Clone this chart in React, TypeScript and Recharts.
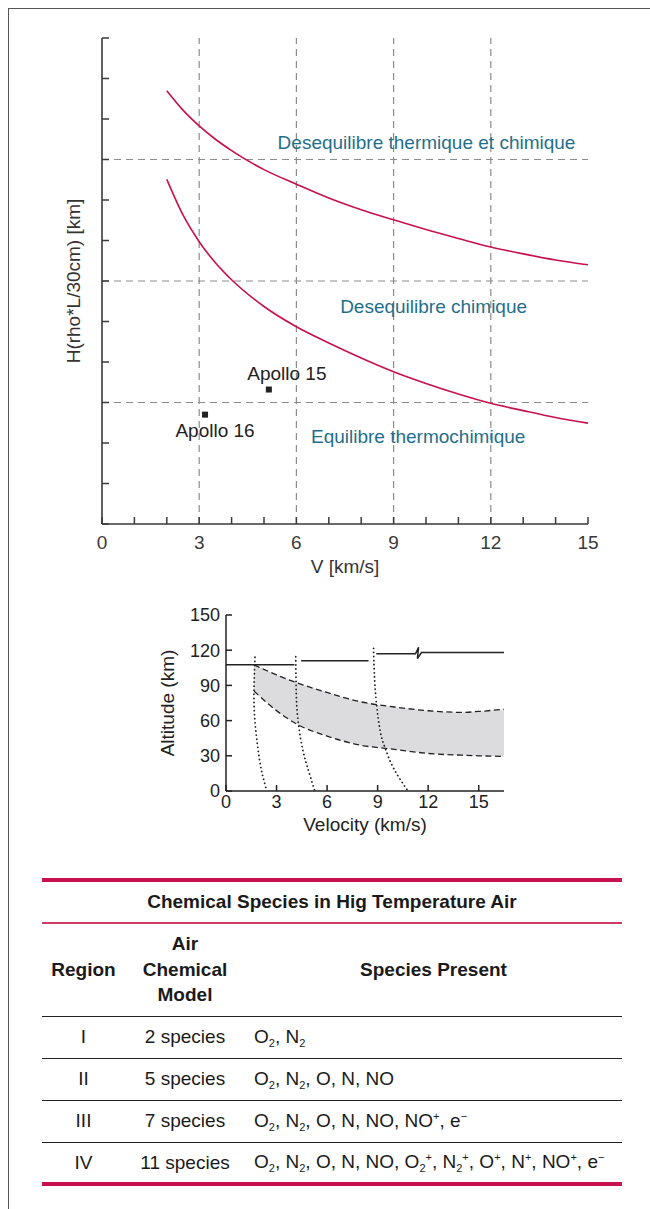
import React from "react"
import {
  ComposedChart,
  Line,
  Area,
  Scatter,
  XAxis,
  YAxis,
  ReferenceLine,
  ReferenceDot,
} from "recharts"

const FONT = '"Liberation Sans", Arial, Helvetica, sans-serif'
const CRIMSON = "#c8104e"
const CRIMSON_THIN = "#d03a66"
const TEAL = "#1f6f8c"
const GRID = "#8c8c8c"
const INK = "#222"
const AXIS1 = "#3a3a3a"

// ---- upper chart: H(rho*L/30cm) vs V
const curveV = [2, 2.5, 3, 3.5, 4, 5, 6, 7, 8, 9, 10, 11, 12, 13, 14, 15]
const upperH = [10.7, 10.22, 9.83, 9.5, 9.22, 8.75, 8.39, 8.05, 7.76, 7.51, 7.27, 7.05, 6.84, 6.67, 6.52, 6.4]
const lowerH = [8.51, 7.63, 6.97, 6.45, 6.03, 5.37, 4.87, 4.47, 4.1, 3.76, 3.47, 3.21, 2.98, 2.8, 2.63, 2.49]

const apolloNames = ["Apollo 15", "Apollo 16"]
const apolloV = [5.15, 3.18]
const apolloH = [3.32, 2.7]

const regionNames = ["Desequilibre thermique et chimique", "Desequilibre chimique", "Equilibre thermochimique"]
const regionV = [5.42, 7.35, 6.45]
const regionH = [9.42, 5.38, 2.16]

const vTicks = [0, 1, 2, 3, 4, 5, 6, 7, 8, 9, 10, 11, 12, 13, 14, 15]
const vLabels = [0, 3, 6, 9, 12, 15]
const hTicks = [0, 1, 2, 3, 4, 5, 6, 7, 8, 9, 10, 11, 12]
const vGrid = [3, 6, 9, 12]
const hGrid = [3, 6, 9]

// ---- lower chart: altitude vs velocity
const bandV = [1.66, 3, 4.2, 6, 8, 10, 12, 14, 15, 16.5]
const bandHi = [107.5, 99, 92.3, 84, 76, 71.6, 68.4, 67, 67.8, 69.7]
const bandLo = [85.2, 68.5, 57, 46.8, 39, 35.5, 32, 30.5, 30, 29.5]

const dot1V = [1.72, 1.66, 1.72, 1.92, 2.12, 2.42]
const dot1A = [114, 85, 59, 33.5, 16.5, 0]
const dot2V = [4.14, 4.16, 4.24, 4.5, 4.8, 5.27]
const dot2A = [114.5, 90, 65, 39, 22, 0]
const dot3V = [8.76, 8.8, 8.92, 9.16, 9.45, 9.95, 10.8]
const dot3A = [121.6, 101.7, 76, 50.6, 36.4, 19.3, 0]

const seg1V = [0, 4.06]
const seg1A = [107.7, 107.7]
const seg2V = [4.46, 8.46]
const seg2A = [111, 111]
const seg3V = [8.92, 11.25, 11.43, 11.36, 11.6, 16.5]
const seg3A = [117, 117, 122.5, 112.8, 118, 118]

const velTicks = [0, 3, 6, 9, 12, 15]
const altTicks = [0, 30, 60, 90, 120, 150]

// ---- table
const tableTitle = "Chemical Species in Hig Temperature Air"
const headRegion = "Region"
const headModel = ["Air", "Chemical", "Model"]
const headSpecies = "Species Present"
const regions = ["I", "II", "III", "IV"]
const models = ["2 species", "5 species", "7 species", "11 species"]
const speciesLists = [
  ["O_2", "N_2"],
  ["O_2", "N_2", "O", "N", "NO"],
  ["O_2", "N_2", "O", "N", "NO", "NO^+", "e^\u2212"],
  ["O_2", "N_2", "O", "N", "NO", "O_2^+", "N_2^+", "O^+", "N^+", "NO^+", "e^\u2212"],
]

const zip = (xs: number[], ys: number[], key: string) => xs.map((v, i) => ({ v, [key]: ys[i] }))

const upperCurve = zip(curveV, upperH, "h")
const lowerCurve = zip(curveV, lowerH, "h")
const apollo = apolloNames.map((name, i) => ({ name, v: apolloV[i], h: apolloH[i] }))
const band = bandV.map((v, i) => ({ v, lo: bandLo[i], hi: bandHi[i] }))
const bandUpper = zip(bandV, bandHi, "alt")
const bandLower = zip(bandV, bandLo, "alt")
const dotted = [zip(dot1V, dot1A, "alt"), zip(dot2V, dot2A, "alt"), zip(dot3V, dot3A, "alt")]
const solid = [zip(seg1V, seg1A, "alt"), zip(seg2V, seg2A, "alt"), zip(seg3V, seg3A, "alt")]

type Side = "bottom" | "top" | "left" | "right"

function tickRenderer(side: Side, len: number, color: string, labels: number[] = [], gap = 0, size = 18) {
  return (p: any) => {
    const { x, y, payload } = p
    const v = payload.value
    const show = labels.includes(v)
    let x2 = x
    let y2 = y
    if (side === "bottom") y2 = y - len
    if (side === "top") y2 = y + len
    if (side === "left") x2 = x + len
    if (side === "right") x2 = x - len
    return (
      <g>
        <line x1={x} y1={y} x2={x2} y2={y2} stroke={color} strokeWidth={1.5} />
        {show && side === "bottom" && (
          <text x={x} y={y + gap} textAnchor="middle" fontSize={size} fill={color}>
            {v}
          </text>
        )}
        {show && side === "left" && (
          <text x={x - gap} y={y + size * 0.355} textAnchor="end" fontSize={size} fill={color}>
            {v}
          </text>
        )}
      </g>
    )
  }
}

const apolloShift = [
  { dx: 18, dy: -10 },
  { dx: 10, dy: 22 },
]

function ApolloMark(props: any) {
  const { cx, cy, payload, index } = props
  const s = apolloShift[index] || apolloShift[0]
  return (
    <g>
      <rect x={cx - 3} y={cy - 3} width={6} height={6} fill={INK} />
      <text x={cx + s.dx} y={cy + s.dy} textAnchor="middle" fontSize={19} fill={INK}>
        {payload.name}
      </text>
    </g>
  )
}

function TopChart() {
  return (
    <div style={{ position: "absolute", left: 0, top: 0 }}>
      <ComposedChart width={650} height={610} margin={{ top: 38, right: 62, bottom: 0, left: 44 }}>
        <XAxis
          type="number"
          dataKey="v"
          domain={[0, 15]}
          ticks={vTicks}
          interval={0}
          height={86}
          tickSize={0}
          tickMargin={0}
          tickLine={false}
          axisLine={{ stroke: AXIS1, strokeWidth: 1.6 }}
          tick={tickRenderer("bottom", 7, AXIS1, vLabels, 25, 19)}
          label={{ value: "V [km/s]", position: "insideBottom", offset: 37, fill: "#333", fontSize: 19 }}
        />
        <XAxis xAxisId="top" orientation="top" type="number" domain={[0, 15]} height={0} tick={false} tickLine={false} axisLine={{ stroke: "#555", strokeWidth: 1.5 }} />
        <YAxis
          type="number"
          dataKey="h"
          domain={[0, 12]}
          ticks={hTicks}
          interval={0}
          width={58}
          tickSize={0}
          tickMargin={0}
          tickLine={false}
          axisLine={{ stroke: AXIS1, strokeWidth: 1.6 }}
          tick={tickRenderer("left", 7, AXIS1)}
          label={{ value: "H(rho*L/30cm) [km]", angle: -90, position: "center", fill: "#333", fontSize: 19 }}
        />
        <YAxis yAxisId="right" orientation="right" type="number" domain={[0, 12]} width={0} tick={false} tickLine={false} axisLine={{ stroke: "#555", strokeWidth: 1.5 }} />

        {vGrid.map((g) => (
          <ReferenceLine key={"v" + g} x={g} stroke={GRID} strokeWidth={1.2} strokeDasharray="7 5" />
        ))}
        {hGrid.map((g) => (
          <ReferenceLine key={"h" + g} y={g} stroke={GRID} strokeWidth={1.2} strokeDasharray="7 5" />
        ))}

        <Line data={upperCurve} dataKey="h" type="monotone" stroke={CRIMSON} strokeWidth={1.6} dot={false} isAnimationActive={false} />
        <Line data={lowerCurve} dataKey="h" type="monotone" stroke={CRIMSON} strokeWidth={1.6} dot={false} isAnimationActive={false} />
        <Scatter data={apollo} dataKey="h" shape={ApolloMark} isAnimationActive={false} />

        {regionNames.map((name, i) => (
          <ReferenceDot
            key={name}
            x={regionV[i]}
            y={regionH[i]}
            r={0}
            fill="none"
            stroke="none"
            label={{ value: name, position: "right", offset: 0, fill: TEAL, fontSize: 19 }}
          />
        ))}
      </ComposedChart>
    </div>
  )
}

function BottomChart() {
  return (
    <div style={{ position: "absolute", left: 100, top: 595 }}>
      <ComposedChart width={450} height={250} margin={{ top: 20, right: 46, bottom: 0, left: 8 }}>
        <XAxis
          type="number"
          dataKey="v"
          domain={[0, 16.5]}
          ticks={velTicks}
          interval={0}
          height={54}
          tickSize={0}
          tickMargin={0}
          tickLine={false}
          axisLine={{ stroke: INK, strokeWidth: 1.5 }}
          tick={tickRenderer("bottom", 6, INK, velTicks, 17, 18)}
          label={{ value: "Velocity (km/s)", position: "insideBottom", offset: 14, fill: INK, fontSize: 19 }}
        />
        <XAxis
          xAxisId="top"
          orientation="top"
          type="number"
          domain={[0, 16.5]}
          ticks={velTicks}
          interval={0}
          height={0}
          tickSize={0}
          tickMargin={0}
          tickLine={false}
          axisLine={{ stroke: INK, strokeWidth: 1.5 }}
          tick={tickRenderer("top", 6, INK)}
        />
        <YAxis
          type="number"
          domain={[0, 150]}
          ticks={altTicks}
          interval={0}
          width={118}
          tickSize={0}
          tickMargin={0}
          tickLine={false}
          axisLine={{ stroke: INK, strokeWidth: 1.5 }}
          tick={tickRenderer("left", 6, INK, altTicks, 6, 18)}
          label={{ value: "Altitude (km)", angle: -90, position: "center", fill: INK, fontSize: 19 }}
        />
        <YAxis
          yAxisId="right"
          orientation="right"
          type="number"
          domain={[0, 150]}
          ticks={altTicks}
          interval={0}
          width={0}
          tickSize={0}
          tickMargin={0}
          tickLine={false}
          axisLine={{ stroke: INK, strokeWidth: 1.5 }}
          tick={tickRenderer("right", 6, INK)}
        />

        <Area
          data={band}
          dataKey={(d: any) => [d.lo, d.hi]}
          type="monotone"
          fill="#dcdcde"
          fillOpacity={1}
          stroke="none"
          isAnimationActive={false}
        />
        <Line data={bandUpper} dataKey="alt" type="monotone" stroke={INK} strokeWidth={1.3} strokeDasharray="6 3.5" dot={false} isAnimationActive={false} />
        <Line data={bandLower} dataKey="alt" type="monotone" stroke={INK} strokeWidth={1.3} strokeDasharray="6 3.5" dot={false} isAnimationActive={false} />
        {dotted.map((d, i) => (
          <Line
            key={"d" + i}
            data={d}
            dataKey="alt"
            type="natural"
            stroke={INK}
            strokeWidth={1.8}
            strokeDasharray="0.1 4"
            strokeLinecap="round"
            dot={false}
            isAnimationActive={false}
          />
        ))}
        {solid.map((d, i) => (
          <Line key={"s" + i} data={d} dataKey="alt" type="linear" stroke={INK} strokeWidth={1.5} dot={false} isAnimationActive={false} />
        ))}
      </ComposedChart>
    </div>
  )
}

function Species({ t }: { t: string }) {
  const m = t.match(/^([A-Za-z]+)(?:_(\d))?(?:\^(.))?$/)
  if (!m) return <span>{t}</span>
  return (
    <span>
      {m[1]}
      {m[2] && <span style={{ fontSize: 11, verticalAlign: "-4px" }}>{m[2]}</span>}
      {m[3] && <span style={{ fontSize: 11, verticalAlign: "7px" }}>{m[3]}</span>}
    </span>
  )
}

const cols = "83px 120px 1fr"

function SpeciesTable() {
  const cell: React.CSSProperties = { textAlign: "center" }
  return (
    <div style={{ position: "absolute", left: 42, top: 878, width: 580, fontSize: 19, color: "#1a1a1a" }}>
      <div style={{ height: 4, background: CRIMSON }} />
      <div style={{ height: 40, display: "flex", alignItems: "center", justifyContent: "center", fontWeight: 700 }}>
        {tableTitle}
      </div>
      <div style={{ height: 1.5, background: CRIMSON_THIN }} />
      <div style={{ display: "grid", gridTemplateColumns: cols, height: 92, alignItems: "center", fontWeight: 700 }}>
        <div style={cell}>{headRegion}</div>
        <div style={{ ...cell, lineHeight: "25.5px" }}>
          {headModel.map((h) => (
            <div key={h}>{h}</div>
          ))}
        </div>
        <div style={cell}>{headSpecies}</div>
      </div>
      <div style={{ height: 1.5, background: INK }} />
      {regions.map((r, i) => {
        const last = i === regions.length - 1
        return (
          <React.Fragment key={r}>
            <div style={{ display: "grid", gridTemplateColumns: cols, height: last ? 39 : 40.5, alignItems: "center" }}>
              <div style={cell}>{r}</div>
              <div style={cell}>{models[i]}</div>
              <div style={{ paddingLeft: 9 }}>
                {speciesLists[i].map((s, j) => (
                  <React.Fragment key={j}>
                    {j > 0 && ", "}
                    <Species t={s} />
                  </React.Fragment>
                ))}
              </div>
            </div>
            <div style={{ height: last ? 4 : 1.5, background: last ? CRIMSON : INK }} />
          </React.Fragment>
        )
      })}
    </div>
  )
}

export default function App() {
  return (
    <div
      style={{
        position: "absolute",
        left: 0,
        top: 0,
        width: 650,
        height: 1209,
        overflow: "hidden",
        background: "#fff",
        fontFamily: FONT,
      }}
    >
      <div
        style={{
          position: "absolute",
          left: 8,
          top: 8,
          width: 660,
          height: 1220,
          borderLeft: "1.7px solid #555",
          borderTop: "1.7px solid #555",
        }}
      />
      <TopChart />
      <BottomChart />
      <SpeciesTable />
    </div>
  )
}
